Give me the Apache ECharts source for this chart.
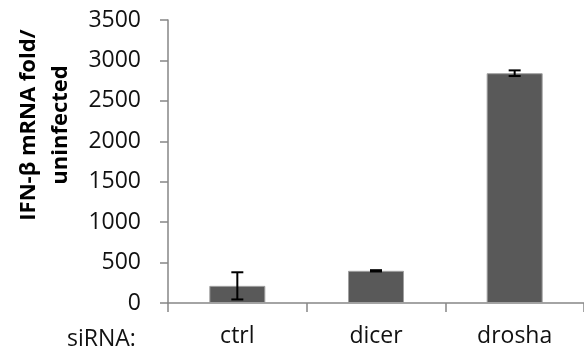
<!DOCTYPE html>
<html>
<head>
<meta charset="utf-8">
<script src="https://cdn.jsdelivr.net/npm/echarts@6/dist/echarts.min.js"></script>
<style>html,body{margin:0;padding:0;background:#fff;}#chart{width:584px;height:356px;}</style>
</head>
<body>
<div id="chart"></div>
<script>
var categories = ['ctrl', 'dicer', 'drosha'];
var values = [212, 398, 2842];
var errors = [168, 8, 35];
var yTicks = { min: 0, max: 3500, interval: 500 };
var yTitle = 'IFN-\u03b2 mRNA fold/\nuninfected';
var xPrefix = 'siRNA:';

var errData = categories.map(function (c, i) { return [i, values[i] - errors[i], values[i] + errors[i]]; });

var chart = echarts.init(document.getElementById('chart'), null, { renderer: 'canvas' });
chart.setOption({
  animation: false,
  backgroundColor: '#fff',
  grid: { left: 168, top: 20, width: 422, bottom: 53 },
  xAxis: {
    type: 'category',
    data: categories,
    axisLine: { lineStyle: { color: '#868686', width: 1.5 } },
    axisTick: { show: true, length: 9, lineStyle: { color: '#868686', width: 1.5 } },
    axisLabel: { color: '#111', fontFamily: 'Open Sans', fontSize: 23, margin: 22 }
  },
  yAxis: {
    type: 'value',
    min: yTicks.min, max: yTicks.max, interval: yTicks.interval,
    splitLine: { show: false },
    axisLine: { show: true, lineStyle: { color: '#868686', width: 1.5 } },
    axisTick: { show: true, length: 8, lineStyle: { color: '#868686', width: 1.5 } },
    axisLabel: { color: '#111', fontFamily: 'Open Sans', fontSize: 23, margin: 27,
                 formatter: function (v) { return String(v); } }
  },
  graphic: [
    {
      type: 'text', x: 45, y: 125, rotation: Math.PI / 2,
      style: { text: yTitle, fontFamily: 'Open Sans', fontWeight: 'bold', fontSize: 22, lineHeight: 32,
               fill: '#000', textAlign: 'center', textVerticalAlign: 'middle' }
    },
    {
      type: 'text', x: 67, y: 339,
      style: { text: xPrefix, fontFamily: 'Open Sans', fontSize: 23, fill: '#111', textAlign: 'left', textVerticalAlign: 'middle' }
    }
  ],
  series: [
    {
      type: 'bar',
      data: values,
      barWidth: 56,
      itemStyle: { color: '#595959', borderColor: '#a0a0a0', borderWidth: 1 }
    },
    {
      type: 'custom',
      data: errData,
      z: 10,
      renderItem: function (params, api) {
        var x = api.value(0);
        var lo = api.coord([x, api.value(1)]);
        var hi = api.coord([x, api.value(2)]);
        var hw = 6;
        var st = { stroke: '#000', lineWidth: 2 };
        return {
          type: 'group',
          children: [
            { type: 'line', shape: { x1: lo[0], y1: lo[1], x2: hi[0], y2: hi[1] }, style: st },
            { type: 'line', shape: { x1: hi[0] - hw, y1: hi[1], x2: hi[0] + hw, y2: hi[1] }, style: st },
            { type: 'line', shape: { x1: lo[0] - hw, y1: lo[1], x2: lo[0] + hw, y2: lo[1] }, style: st }
          ]
        };
      }
    }
  ]
});
</script>
</body>
</html>
